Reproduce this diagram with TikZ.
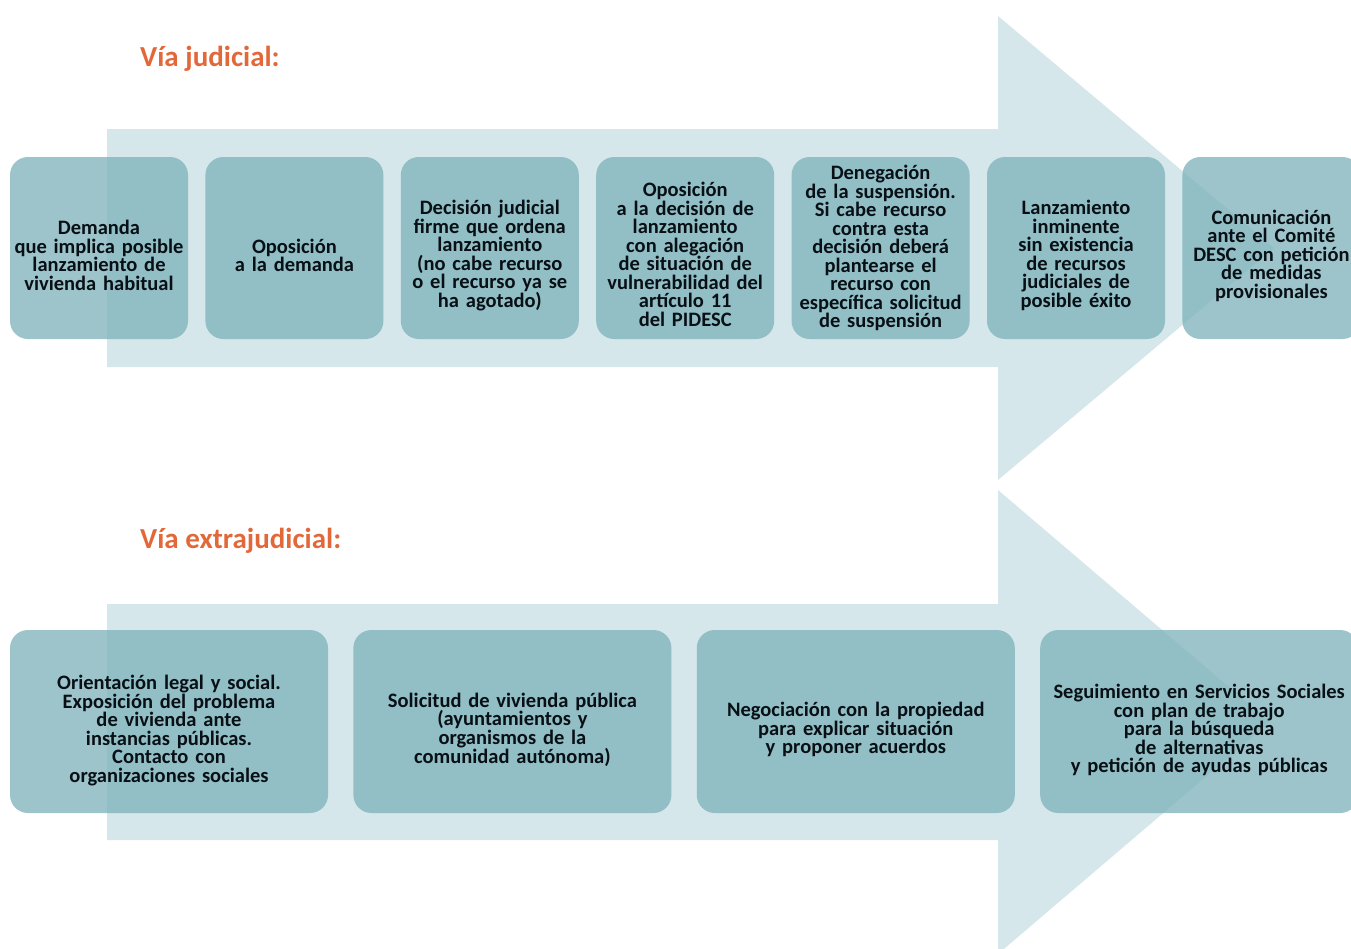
\documentclass[tikz,border=0pt]{standalone}
\usepackage{fontspec}
\setmainfont{Carlito}
\usetikzlibrary{positioning}
\definecolor{arrowColor}{RGB}{213,231,235}
\definecolor{boxColor}{RGB}{123,176,185}
\definecolor{titleColor}{RGB}{226,104,58}
\definecolor{textColor}{RGB}{8,16,22}
\tikzstyle{diagram} = [x = 1pt, y = -1pt]
\tikzstyle{arrowStyle} = [fill=arrowColor]
\tikzstyle{stepBox} = [rectangle, rounded corners = 18pt, fill=boxColor, fill opacity=.74, text opacity=1, text=textColor, font=\bfseries\fontsize{20.5}{18.5}\selectfont, align=center, inner sep=0pt, minimum height=182pt]
\tikzstyle{shortBox} = [stepBox, minimum width=178pt, text width=176pt]
\tikzstyle{longBox} = [stepBox, minimum width=318pt, minimum height=183pt, text width=312pt]
\tikzstyle{titleText} = [anchor=base west, inner sep=0pt, text=titleColor, font=\bfseries\fontsize{29}{29}\selectfont]
\newcommand{\bigArrow}[4]{\fill [arrowStyle] (107, #1 - #2) -- (998, #1 - #2) -- (998, #1 - #3) -- (#4, #1) -- (998, #1 + #3) -- (998, #1 + #2) -- (107, #1 + #2) -- cycle;}

\begin{document}
\begin{tikzpicture}[diagram]
  \useasboundingbox (0,0) rectangle (1351,948);
  \bigArrow{248}{119}{232}{1274}
  \bigArrow{722}{118}{232}{1270}

  \node [titleText] (judicialTitle) at (140,66) {Vía judicial:};
  \node [titleText] (extraTitle) at (140,548) {Vía extrajudicial:};

  \node [shortBox, text height=29pt] (j1) at (99,248) {Demanda\\que implica posible\\lanzamiento de\\vivienda habitual};
  \node [shortBox, text height=29pt, right = 17pt of j1] (j2) {Oposición\\a la demanda};
  \node [shortBox, text height=29pt, right = 17pt of j2] (j3) {Decisión judicial\\firme que ordena\\lanzamiento\\(no cabe recurso\\o el recurso ya se\\ha agotado)};
  \node [shortBox, text height=27pt, right = 17pt of j3] (j4) {Oposición\\a la decisión de\\lanzamiento\\con alegación\\de situación de\\vulnerabilidad del\\artículo 11\\del PIDESC};
  \node [shortBox, right = 17pt of j4] (j5) {Denegación\\de la suspensión.\\Si cabe recurso\\contra esta\\decisión deberá\\plantearse el\\recurso con\\específica solicitud\\de suspensión};
  \node [shortBox, text height=29pt, right = 17pt of j5] (j6) {Lanzamiento\\inminente\\sin existencia\\de recursos\\judiciales de\\posible éxito};
  \node [shortBox, text height=30pt, right = 17pt of j6] (j7) {Comunicación\\ante el Comité\\DESC con petición\\de medidas\\provisionales};

  \node [longBox, text height=32pt] (e1) at (169,721.5) {Orientación legal y social.\\Exposición del problema\\de vivienda ante\\instancias públicas.\\Contacto con\\organizaciones sociales};
  \node [longBox, text height=31pt, right = 25pt of e1] (e2) {Solicitud de vivienda pública\\(ayuntamientos y\\organismos de la\\comunidad autónoma)};
  \node [longBox, text height=31pt, right = 25pt of e2] (e3) {Negociación con la propiedad\\para explicar situación\\y proponer acuerdos};
  \node [longBox, text height=32pt, right = 25pt of e3] (e4) {Seguimiento en Servicios Sociales\\con plan de trabajo\\para la búsqueda\\de alternativas\\y petición de ayudas públicas};
\end{tikzpicture}
\end{document}
